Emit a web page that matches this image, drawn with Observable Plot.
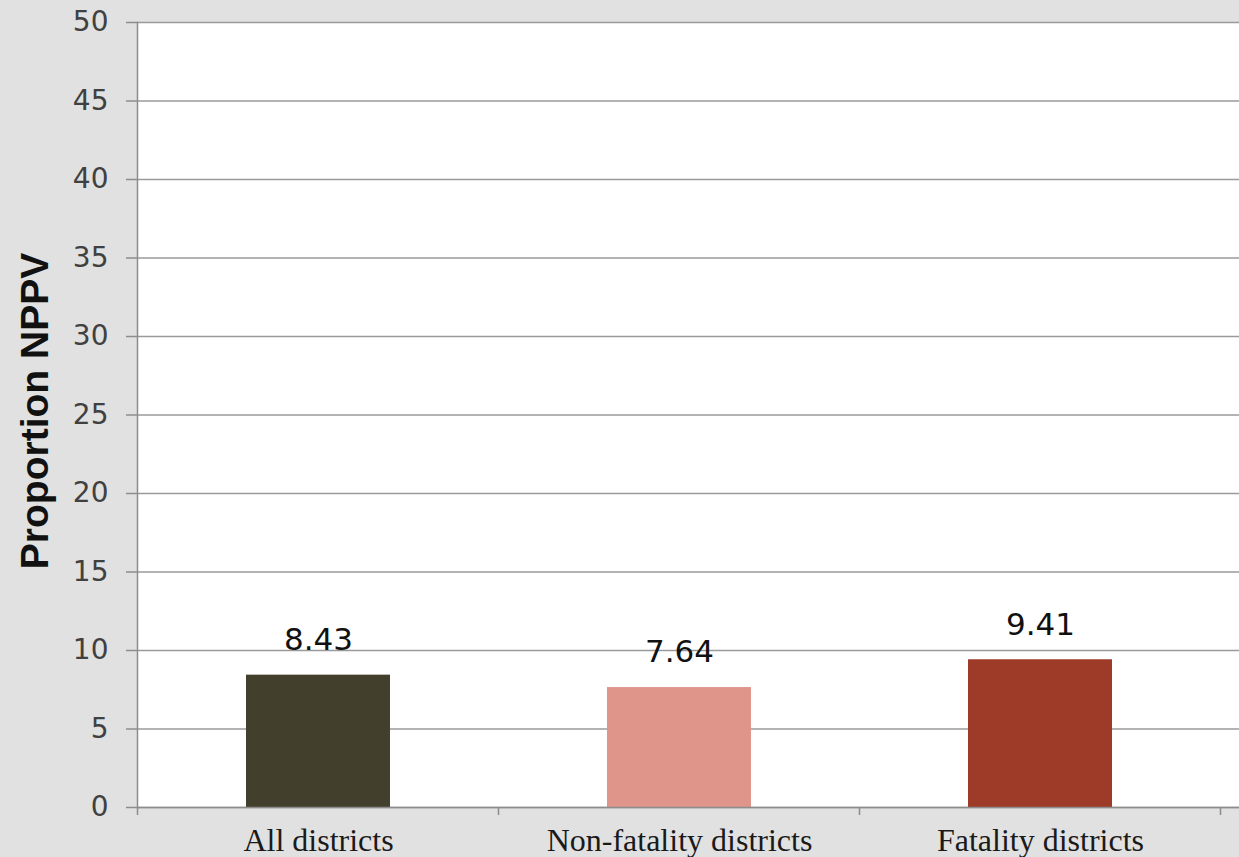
<!DOCTYPE html>
<html>
<head>
<meta charset="utf-8">
<script src="https://cdn.jsdelivr.net/npm/d3@7"></script>
<script src="https://cdn.jsdelivr.net/npm/@observablehq/plot@0.6"></script>
<style>
  html, body { margin: 0; padding: 0; background: #e1e1e1; }
  #chart { width: 1239px; height: 857px; }
  #chart svg { display: block; background: transparent; }
</style>
</head>
<body>
<div id="chart"></div>
<script>
// District groups and their NPPV proportions
const categories = ["All districts", "Non-fatality districts", "Fatality districts"];
const values = [8.43, 7.64, 9.41];
const colors = ["#433f2d", "#e0958a", "#9e3a28"];
const yTicks = [0, 5, 10, 15, 20, 25, 30, 35, 40, 45, 50];
const yTitle = "Proportion NPPV";

const data = categories.map((c, i) => ({category: c, value: values[i], color: colors[i]}));

// Small ticks on the x axis at the boundaries between categories
function bandBoundaries(index, scales) {
  const x = scales.x;
  const step = x.step();
  const y0 = scales.y(0);
  const g = d3.create("svg:g").attr("stroke", "#8c8c8c").attr("stroke-width", 1.5);
  const doms = x.domain();
  const edges = doms.map(d => x(d) + x.bandwidth() / 2 - step / 2);
  edges.push(x(doms[doms.length - 1]) + x.bandwidth() / 2 + step / 2);
  for (const e of edges) {
    g.append("line").attr("x1", e).attr("x2", e).attr("y1", y0).attr("y2", y0 + 8);
  }
  return g.node();
}

const chart = Plot.plot({
  width: 1239,
  height: 857,
  marginLeft: 137,
  marginRight: 0,
  marginTop: 22,
  marginBottom: 50,
  style: {background: "transparent", overflow: "visible"},
  x: {domain: categories, range: [137, 1222], paddingInner: 0.6, paddingOuter: 0.3, label: null},
  y: {domain: [0, 50], label: null},
  marks: [
    Plot.frame({fill: "white", stroke: null}),
    Plot.ruleY(yTicks, {stroke: "#9a9a9a", strokeWidth: 1.5}),
    Plot.barY(data, {x: "category", y: "value", fill: "color"}),
    Plot.text(data, {
      x: "category", y: "value", text: d => d.value.toFixed(2),
      dy: -35, fontSize: 31, fill: "#111",
      fontFamily: "DejaVu Sans, sans-serif"
    }),
    Plot.axisY({
      ticks: yTicks, tickSize: 11, tickPadding: 18,
      stroke: "#8c8c8c", strokeWidth: 1.5, fill: "#404040",
      fontSize: 28, fontFamily: "DejaVu Sans, sans-serif", label: null
    }),
    Plot.text([yTitle], {
      frameAnchor: "left", textAnchor: "middle", dx: -102, dy: -4, rotate: -90,
      fontSize: 39, fontWeight: "bold", fill: "#111",
      fontFamily: "Liberation Sans, Arial, sans-serif"
    }),
    Plot.frame({anchor: "left", stroke: "#8c8c8c", strokeWidth: 1.5}),
    Plot.ruleY([0], {stroke: "#8c8c8c", strokeWidth: 1.5}),
    bandBoundaries,
    Plot.axisX({
      tickSize: 0, tickPadding: 21, label: null,
      fontSize: 32, fill: "#1a1a1a",
      fontFamily: "Liberation Serif, Times New Roman, serif"
    })
  ]
});

document.getElementById("chart").appendChild(chart);
</script>
</body>
</html>
